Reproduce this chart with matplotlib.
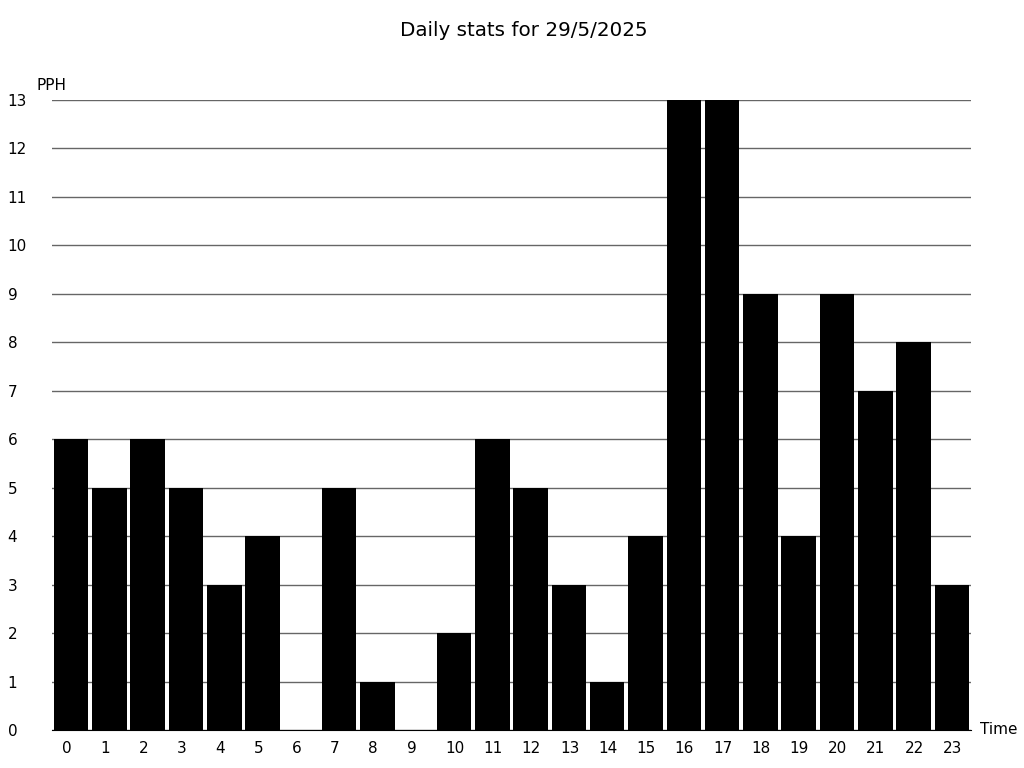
import matplotlib
matplotlib.use("Agg")
import matplotlib.pyplot as plt
import matplotlib.transforms as mtransforms

# Data
hours = list(range(24))
pph = [6, 5, 6, 5, 3, 4, 0, 5, 1, 0, 2, 6, 5, 3, 1, 4, 13, 13, 9, 4, 9, 7, 8, 3]
y_ticks = list(range(14))

fig = plt.figure(figsize=(10.24, 7.68), dpi=100)
ax = fig.add_axes([52 / 1024, 1 - 730 / 768, 919 / 1024, 630 / 768])

ax.bar(hours, pph, width=0.9, color="black", zorder=2)

ax.set_xlim(-0.5, 23.5)
ax.set_ylim(0, 13)
ax.set_xticks(hours)
ax.set_yticks(y_ticks)
ax.tick_params(axis="both", length=0, labelsize=11)
ax.tick_params(axis="y", pad=32)
ax.tick_params(axis="x", pad=8)
ax.yaxis.grid(True, color="#666666", linewidth=1, zorder=1)

# labels are left aligned, a bit left of the tick
for lab in ax.get_yticklabels():
    lab.set_horizontalalignment("left")
shift = mtransforms.ScaledTranslation(-9 / 100, 0, fig.dpi_scale_trans)
for lab in ax.get_xticklabels():
    lab.set_horizontalalignment("left")
    lab.set_transform(lab.get_transform() + shift)

for side in ["top", "right", "left"]:
    ax.spines[side].set_visible(False)
ax.spines["bottom"].set_color("black")

fig.text(37 / 1024, 1 - 85 / 768, "PPH", fontsize=11, va="center", ha="left")
fig.text(980 / 1024, 1 - 730 / 768, "Time", fontsize=11, va="center", ha="left")
fig.text(524 / 1024, 1 - 31 / 768, "Daily stats for 29/5/2025", fontsize=14.3, ha="center", va="center")

fig.savefig("out.png", dpi=100)
